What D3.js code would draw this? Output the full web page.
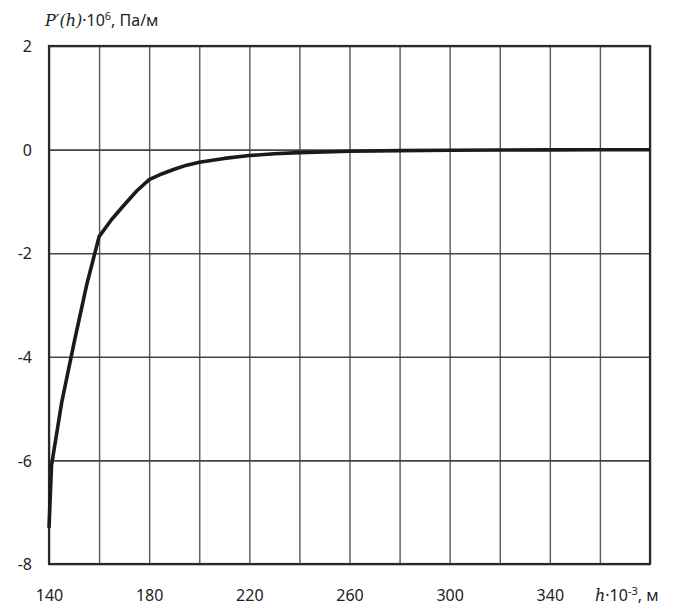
<!DOCTYPE html>
<html>
<head>
<meta charset="utf-8">
<script src="https://cdn.jsdelivr.net/npm/d3@7"></script>
<style>
  html, body { margin: 0; padding: 0; background: #fff; }
  svg { display: block; }
  .lbl { font-family: "Noto Sans", "Open Sans", sans-serif; font-size: 16px; fill: #222; }
  .math { font-family: "DejaVu Serif", "Liberation Serif", serif; font-style: italic; }
</style>
</head>
<body>
<svg id="chart" width="678" height="610"></svg>
<script>
// Height h (×10^3 m) and pressure gradient P'(h) (×10^-6 Pa/m)
const heights = [140, 141, 145, 150, 155, 160, 165, 170, 175, 180, 185, 190, 195, 200,
                 210, 220, 230, 240, 260, 280, 300, 320, 340, 360, 380];
const gradient = [-7.3, -6.1, -4.9, -3.73, -2.62, -1.68, -1.35, -1.07, -0.8, -0.58, -0.47, -0.38, -0.3, -0.245,
                  -0.17, -0.115, -0.08, -0.058, -0.033, -0.02, -0.012, -0.008, -0.005, -0.003, -0.002];

const xGridTicks = d3.range(140, 381, 20);
const xLabelTicks = [140, 180, 220, 260, 300, 340];
const yTicks = [-8, -6, -4, -2, 0, 2];

const svg = d3.select("#chart");
const plotL = 49, plotR = 650, plotT = 46, plotB = 564;

const x = d3.scaleLinear().domain([140, 380]).range([plotL, plotR]);
const y = d3.scaleLinear().domain([-8, 2]).range([plotB, plotT]);

// vertical grid lines
const gx = svg.append("g")
  .attr("transform", `translate(0,${plotB})`)
  .call(d3.axisBottom(x).tickValues(xGridTicks).tickSize(-(plotB - plotT)).tickFormat(""));
gx.select(".domain").remove();
gx.selectAll("line").attr("stroke", "#5a5a5a").attr("stroke-width", 1.4);

// horizontal grid lines
const gy = svg.append("g")
  .attr("transform", `translate(${plotL},0)`)
  .call(d3.axisLeft(y).tickValues(yTicks).tickSize(-(plotR - plotL)).tickFormat(""));
gy.select(".domain").remove();
gy.selectAll("line").attr("stroke", "#444").attr("stroke-width", 1.6);

// frame
svg.append("rect")
  .attr("x", plotL).attr("y", plotT)
  .attr("width", plotR - plotL).attr("height", plotB - plotT)
  .attr("fill", "none").attr("stroke", "#2a2a2a").attr("stroke-width", 2.2);

// y tick labels
const ly = svg.append("g")
  .attr("transform", `translate(${plotL},0)`)
  .call(d3.axisLeft(y).tickValues(yTicks).tickSize(0).tickPadding(17)
    .tickFormat(d => d < 0 ? "-" + Math.abs(d) : String(d)));
ly.select(".domain").remove();
ly.selectAll("text").attr("class", "lbl").attr("fill", "#222").attr("dy", "0.35em");
ly.attr("font-size", null).attr("font-family", null);

// x tick labels
const lx = svg.append("g")
  .attr("transform", `translate(0,${plotB})`)
  .call(d3.axisBottom(x).tickValues(xLabelTicks).tickSize(0).tickPadding(26).tickFormat(d3.format("d")));
lx.select(".domain").remove();
lx.selectAll("text").attr("class", "lbl").attr("fill", "#222");
lx.attr("font-size", null).attr("font-family", null);

// curve
const line = d3.line()
  .x((d, i) => x(heights[i]))
  .y(d => y(d))
  .curve(d3.curveLinear);
svg.append("path")
  .datum(gradient)
  .attr("d", line)
  .attr("fill", "none")
  .attr("stroke", "#1a1a1a")
  .attr("stroke-width", 3.6)
  .attr("stroke-linejoin", "round");

// y axis title
const ty = svg.append("text").attr("class", "lbl").attr("x", 45).attr("y", 26);
ty.append("tspan").attr("class", "math").text("P′(h)");
ty.append("tspan").text("·10");
ty.append("tspan").attr("font-size", "11px").attr("dy", "-6").text("6");
ty.append("tspan").attr("dy", "6").text(", Па/м");

// x axis title
const tx = svg.append("text").attr("class", "lbl").attr("x", 595).attr("y", 601);
tx.append("tspan").attr("class", "math").text("h");
tx.append("tspan").text("·10");
tx.append("tspan").attr("font-size", "11px").attr("dy", "-6").text("-3");
tx.append("tspan").attr("dy", "6").text(", м");
</script>
</body>
</html>
